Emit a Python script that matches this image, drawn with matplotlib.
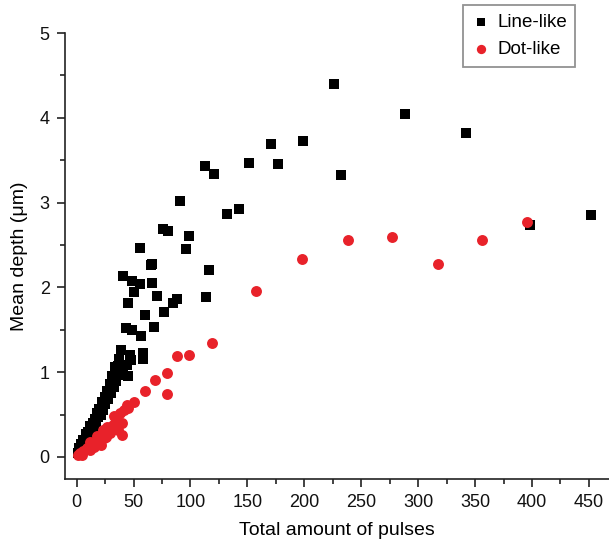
import matplotlib
matplotlib.use("Agg")
import matplotlib.pyplot as plt
from matplotlib.ticker import MultipleLocator

plt.rcParams['font.family'] = ['Liberation Sans', 'DejaVu Sans']

# Line-like craters: total pulses vs mean depth (um)
line_x = [1, 2, 3, 4, 5, 6, 7, 8, 9, 10, 11, 12, 13, 14, 15, 16, 17, 18, 19, 20,
          21, 22, 23, 25, 25, 27, 28, 29, 30, 32, 33, 34, 35, 36, 38, 34, 41, 39,
          45, 48, 58, 58, 57, 49, 43, 68, 60, 77, 45, 85, 88, 71, 50, 56, 66, 49,
          41, 114, 116, 65, 66, 56, 96, 99, 76, 80, 91, 113, 121, 132, 143, 151,
          171, 177, 199, 226, 232, 288, 342, 398, 452, 44, 47, 37, 31]
line_y = [0.05, 0.10, 0.08, 0.15, 0.12, 0.20, 0.18, 0.27, 0.22, 0.30, 0.26, 0.36,
          0.31, 0.40, 0.35, 0.45, 0.41, 0.52, 0.47, 0.57, 0.50, 0.65, 0.55, 0.71,
          0.62, 0.78, 0.68, 0.86, 0.75, 0.93, 0.83, 1.00, 0.90, 1.07, 0.97, 1.06,
          1.06, 1.26, 0.95, 1.14, 1.23, 1.16, 1.43, 1.50, 1.52, 1.53, 1.67, 1.71,
          1.81, 1.82, 1.86, 1.90, 1.95, 2.04, 2.05, 2.08, 2.14, 1.89, 2.20, 2.26,
          2.28, 2.46, 2.45, 2.61, 2.69, 2.66, 3.02, 3.43, 3.34, 2.87, 2.92, 3.47,
          3.69, 3.45, 3.73, 4.40, 3.33, 4.04, 3.82, 2.73, 2.85, 1.08, 1.20, 1.15,
          0.95]

# Dot-like craters
dot_x = [1, 3, 4.5, 6, 9, 12, 12, 14, 15, 18, 18, 21, 23, 24, 26, 27, 29, 32, 33,
         35, 36, 38, 40, 40, 42, 44, 45, 50, 60, 69, 79, 79, 88, 99, 119, 158,
         198, 238, 277, 317, 356, 396]
dot_y = [0.02, 0.05, 0.02, 0.07, 0.10, 0.08, 0.18, 0.15, 0.12, 0.20, 0.25, 0.14,
         0.32, 0.22, 0.24, 0.35, 0.28, 0.38, 0.48, 0.45, 0.32, 0.52, 0.40, 0.26,
         0.55, 0.61, 0.58, 0.65, 0.78, 0.91, 0.74, 0.99, 1.19, 1.20, 1.34, 1.96,
         2.33, 2.56, 2.59, 2.27, 2.56, 2.77]

x_ticks = [0, 50, 100, 150, 200, 250, 300, 350, 400, 450]
y_ticks = [0, 1, 2, 3, 4, 5]

fig = plt.figure(figsize=(6.09, 5.44), dpi=100)
ax = fig.add_axes([0.1067, 0.1195, 0.8933, 0.8198])

ax.scatter(line_x, line_y, marker='s', s=52, color='black', linewidths=0,
           label='Line-like', zorder=2)
ax.scatter(dot_x, dot_y, marker='o', s=62, color='#e8222a', linewidths=0,
           label='Dot-like', zorder=3)

ax.set_xlim(-10.2, 467.6)
ax.set_ylim(-0.26, 5.0)
ax.set_xticks(x_ticks)
ax.set_yticks(y_ticks)
ax.xaxis.set_minor_locator(MultipleLocator(25))
ax.yaxis.set_minor_locator(MultipleLocator(0.5))

for side in ('top', 'right'):
    ax.spines[side].set_visible(False)
for side in ('left', 'bottom'):
    ax.spines[side].set_linewidth(1.2)
    ax.spines[side].set_color('#222222')

ax.tick_params(which='major', direction='out', length=6, width=1.2,
               labelsize=13, colors='#222222', labelcolor='#111111', pad=5)
ax.tick_params(which='minor', direction='out', length=3.5, width=1.2,
               colors='#222222')

ax.set_xlabel('Total amount of pulses', fontsize=14, labelpad=8)
ax.set_ylabel('Mean depth (\u03bcm)', fontsize=14, labelpad=8)

leg = fig.legend(loc='upper right', bbox_to_anchor=(0.951, 0.997),
                 fontsize=13.5, frameon=True, fancybox=False,
                 edgecolor='#777777', handletextpad=0.35, borderpad=0.45,
                 labelspacing=0.55, handlelength=1.0, markerscale=0.85,
                 borderaxespad=0.2)
leg.get_frame().set_linewidth(1.3)

fig.savefig('out.png', dpi=100)
